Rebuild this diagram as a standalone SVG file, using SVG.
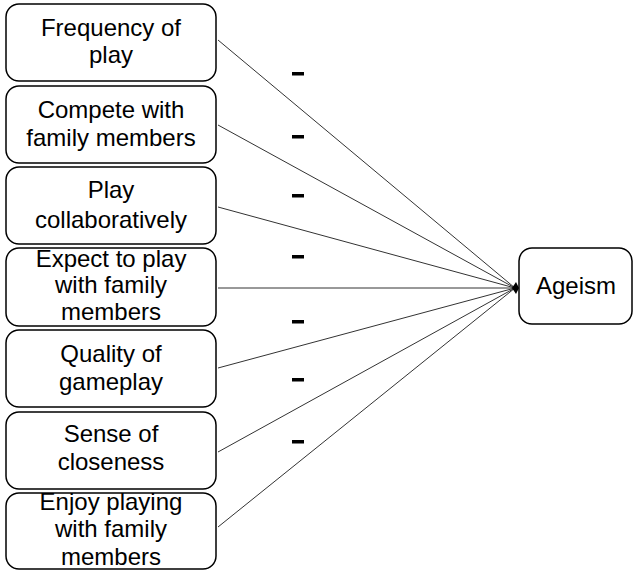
<svg xmlns="http://www.w3.org/2000/svg" width="635" height="573" viewBox="0 0 635 573">
<style>
.box{fill:#fff;stroke:#000;stroke-width:1.5}
.t{font-family:"Liberation Sans",Arial,sans-serif;font-size:24px;fill:#000;text-anchor:middle}
.c{stroke:#333;stroke-width:1;fill:none}
.m{fill:#000}
</style>
<rect width="635" height="573" fill="#fff"/>
<g id="connectors">
<line class="c" x1="218" y1="40" x2="515" y2="288"/>
<line class="c" x1="218" y1="125" x2="515" y2="288"/>
<line class="c" x1="218" y1="207" x2="515" y2="288"/>
<line class="c" x1="218" y1="288" x2="515" y2="288"/>
<line class="c" x1="218" y1="368" x2="515" y2="288"/>
<line class="c" x1="218" y1="452" x2="515" y2="288"/>
<line class="c" x1="218" y1="527" x2="515" y2="288"/>
<polygon points="512,288 516,282 519,288 516,294" fill="#000"/>
<rect class="m" x="292" y="72" width="12" height="3.5"/>
<rect class="m" x="292" y="135" width="12" height="3.5"/>
<rect class="m" x="292" y="194" width="12" height="3.5"/>
<rect class="m" x="292" y="255" width="12" height="3.5"/>
<rect class="m" x="292" y="320" width="12" height="3.5"/>
<rect class="m" x="292" y="378" width="12" height="3.5"/>
<rect class="m" x="292" y="440" width="12" height="3.5"/>
</g>
<g id="n1"><rect class="box" x="6" y="4" width="210" height="77" rx="13"/><text class="t" x="111" y="36">Frequency of</text><text class="t" x="111" y="63">play</text></g>
<g id="n2"><rect class="box" x="6" y="86" width="210" height="77" rx="13"/><text class="t" x="111" y="118">Compete with</text><text class="t" x="111" y="146">family members</text></g>
<g id="n3"><rect class="box" x="6" y="167" width="210" height="77" rx="13"/><text class="t" x="111" y="198">Play</text><text class="t" x="111" y="228">collaboratively</text></g>
<g id="n4"><rect class="box" x="6" y="248" width="210" height="78" rx="13"/><text class="t" x="111" y="267">Expect to play</text><text class="t" x="111" y="293">with family</text><text class="t" x="111" y="320">members</text></g>
<g id="n5"><rect class="box" x="6" y="330" width="210" height="77" rx="13"/><text class="t" x="111" y="362">Quality of</text><text class="t" x="111" y="390">gameplay</text></g>
<g id="n6"><rect class="box" x="6" y="412" width="210" height="77" rx="13"/><text class="t" x="111" y="442">Sense of</text><text class="t" x="111" y="470">closeness</text></g>
<g id="n7"><rect class="box" x="6" y="493" width="210" height="76" rx="13"/><text class="t" x="111" y="510">Enjoy playing</text><text class="t" x="111" y="537">with family</text><text class="t" x="111" y="565">members</text></g>
<g id="ageism"><rect class="box" x="519" y="248" width="113" height="76" rx="13"/><text class="t" x="576" y="294">Ageism</text></g>
</svg>
